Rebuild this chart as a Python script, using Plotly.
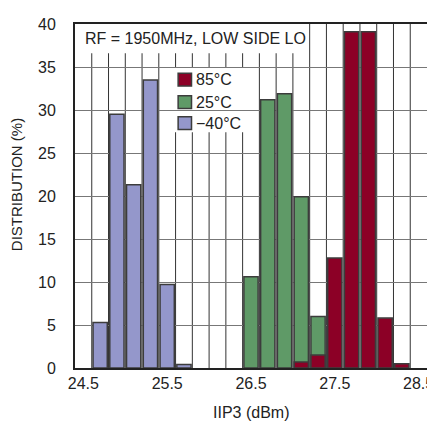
import plotly.graph_objects as go

# bin centers (dBm), 0.2 dBm bins
x_cold = [24.7, 24.9, 25.1, 25.3, 25.5, 25.7]
y_cold = [5.3, 29.5, 21.3, 33.5, 9.7, 0.4]

x_room = [26.5, 26.7, 26.9, 27.1, 27.3]
y_room = [10.6, 31.2, 31.9, 19.9, 6.0]

x_hot = [27.1, 27.3, 27.5, 27.7, 27.9, 28.1, 28.3]
y_hot = [0.7, 1.5, 12.8, 39.1, 39.1, 5.8, 0.5]

tick_vals = [24.5, 25.5, 26.5, 27.5, 28.5]
tick_text = ["24.5", "25.5", "26.5", "27.5", "28.5"]

series_names = ["85\u00b0C", "25\u00b0C", "\u221240\u00b0C"]
series_colors = ["#8c0026", "#5f9a67", "#9497cb"]

FONT = "Liberation Sans, Arial, sans-serif"
EDGE = "#3c3c3c"
X_MIN, X_MAX, BIN = 24.4, 28.6, 0.2

fig = go.Figure()
fig.add_bar(x=x_cold, y=y_cold, name=series_names[2], width=0.17,
            marker=dict(color=series_colors[2], line=dict(color=EDGE, width=1.5)))
fig.add_bar(x=x_room, y=y_room, name=series_names[1], width=0.17,
            marker=dict(color=series_colors[1], line=dict(color=EDGE, width=1.5)))
fig.add_bar(x=x_hot, y=y_hot, name=series_names[0], width=0.17,
            marker=dict(color=series_colors[0], line=dict(color=EDGE, width=1.5)))

shapes = []
# vertical grid at bin edges
n_bins = int(round((X_MAX - X_MIN) / BIN))
for i in range(1, n_bins):
    xv = X_MIN + i * BIN
    shapes.append(dict(type="line", xref="x", yref="paper", x0=xv, x1=xv, y0=0, y1=1,
                       line=dict(color="#333", width=1), layer="between"))
# white box behind the condition text
shapes.append(dict(type="rect", xref="paper", yref="paper", x0=0, x1=0.653,
                   y0=0.915, y1=1, fillcolor="white", line=dict(width=0), layer="between"))
# white legend box
shapes.append(dict(type="rect", xref="paper", yref="paper", x0=0.284, x1=0.486,
                   y0=0.685, y1=0.875, fillcolor="white", line=dict(width=0), layer="between"))

annotations = [dict(text="RF = 1950MHz, LOW SIDE LO", xref="paper", yref="paper",
                    x=0.022, y=0.957, xanchor="left", yanchor="middle",
                    showarrow=False, font=dict(size=16)),
               dict(text="IIP3 (dBm)", xref="paper", yref="paper", x=0.5, y=-0.128,
                    xanchor="center", yanchor="middle", showarrow=False,
                    font=dict(size=16)),
               dict(text="DISTRIBUTION (%)", xref="paper", yref="paper", x=-0.168, y=0.534,
                    xanchor="center", yanchor="middle", textangle=-90, showarrow=False,
                    font=dict(size=15))]

# manual legend
leg_y = [0.838, 0.773, 0.712]
half = 0.0185
for name, col, yc in zip(series_names, series_colors, leg_y):
    shapes.append(dict(type="rect", xref="paper", yref="paper", x0=0.293, x1=0.331,
                       y0=yc - half, y1=yc + half, fillcolor=col,
                       line=dict(color=EDGE, width=1.5), layer="above"))
    annotations.append(dict(text=name, xref="paper", yref="paper", x=0.337, y=yc,
                            xanchor="left", yanchor="middle", showarrow=False,
                            font=dict(size=16)))

fig.update_layout(
    width=435, height=423,
    margin=dict(l=67, r=16, t=8, b=63),
    paper_bgcolor="white", plot_bgcolor="white",
    barmode="overlay", showlegend=False,
    font=dict(family=FONT, size=16, color="#222"),
    shapes=shapes, annotations=annotations,
)
fig.update_xaxes(range=[X_MIN, X_MAX], tickvals=tick_vals, ticktext=tick_text,
                 showgrid=False, ticks="", showline=True, mirror=True,
                 linecolor="#222", linewidth=2, zeroline=False)
fig.update_yaxes(range=[0, 40], dtick=5, showgrid=True, gridcolor="#777",
                 gridwidth=1, ticks="", showline=True, mirror=True,
                 linecolor="#222", linewidth=2, zeroline=False,
                 ticklabelstandoff=14)

fig.write_html("out.html")
